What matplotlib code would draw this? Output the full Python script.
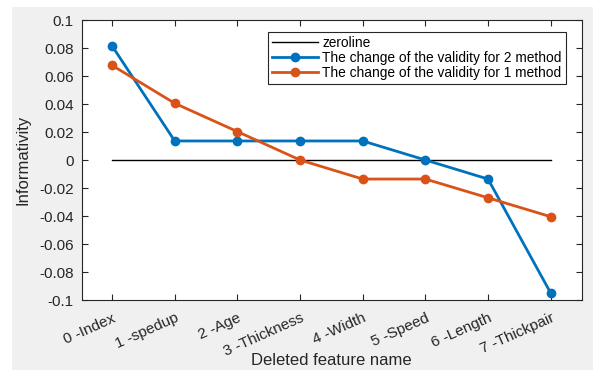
import numpy as np
import matplotlib.pyplot as plt
from matplotlib.patches import Rectangle
from matplotlib.transforms import ScaledTranslation

plt.rcParams['font.family'] = ['Liberation Sans', 'DejaVu Sans']

# features and the two validity curves
features = ['0 -Index', '1 -spedup', '2 -Age', '3 -Thickness', '4 -Width',
            '5 -Speed', '6 -Length', '7 -Thickpair']
method2 = [0.0815, 0.0136, 0.0136, 0.0136, 0.0136, 0.0, -0.0136, -0.095]
method1 = [0.0676, 0.0405, 0.0203, 0.0, -0.0136, -0.0136, -0.027, -0.0405]
zeroline = [0] * len(features)

x = np.arange(len(features))

fig = plt.figure(figsize=(5.93, 3.70), dpi=100, facecolor='white')
# grey matlab figure background (image has a thin white margin top/left)
fig.patches.append(Rectangle((12 / 593, 0), 1, 1 - 7 / 370, transform=fig.transFigure,
                             facecolor='#f0f0f0', edgecolor='none', zorder=-10))
ax = fig.add_axes([82 / 593, 1 - 300 / 370, 500 / 593, 280 / 370])
ax.set_facecolor('white')

ax.plot(x, zeroline, color='black', lw=1, label='zeroline')
ax.plot(x, method2, color='#0072BD', lw=2, marker='o', ms=6,
        label='The change of the validity for 2 method')
ax.plot(x, method1, color='#D95319', lw=2, marker='o', ms=6,
        label='The change of the validity for 1 method')

ax.set_xlim(-0.48, 7.5)
ax.set_ylim(-0.1, 0.1)
ax.set_yticks(np.arange(-0.1, 0.101, 0.02))
ax.set_yticklabels(['-0.1', '-0.08', '-0.06', '-0.04', '-0.02', '0',
                    '0.02', '0.04', '0.06', '0.08', '0.1'])
ax.set_xticks(x)
ax.set_xticklabels(features, rotation=24, ha='right', rotation_mode='anchor')
shift = ScaledTranslation(6 / 100, 0, fig.dpi_scale_trans)
for lab in ax.get_xticklabels():
    lab.set_transform(lab.get_transform() + shift)

for s in ax.spines.values():
    s.set_color('#262626')
    s.set_linewidth(0.8)
ax.tick_params(direction='in', top=True, right=True, length=4, width=0.8,
               colors='#262626', labelsize=11)
ax.tick_params(axis='x', pad=8)
ax.tick_params(axis='y', pad=6)

ax.set_xlabel('Deleted feature name', fontsize=12, color='#262626')
ax.xaxis.set_label_coords(0.498, -0.19)
ax.set_ylabel('Informativity', fontsize=12, color='#262626')
ax.yaxis.set_label_coords(-0.103, 0.5)

leg = ax.legend(loc='upper right', bbox_to_anchor=(0.968, 0.957), borderaxespad=0,
                fontsize=9.9, fancybox=False, framealpha=1, edgecolor='#262626',
                borderpad=0.3, labelspacing=0.05, handlelength=3.3, handletextpad=0.36)
leg.get_frame().set_linewidth(0.8)

fig.savefig('out.png', dpi=100, facecolor=fig.get_facecolor())
